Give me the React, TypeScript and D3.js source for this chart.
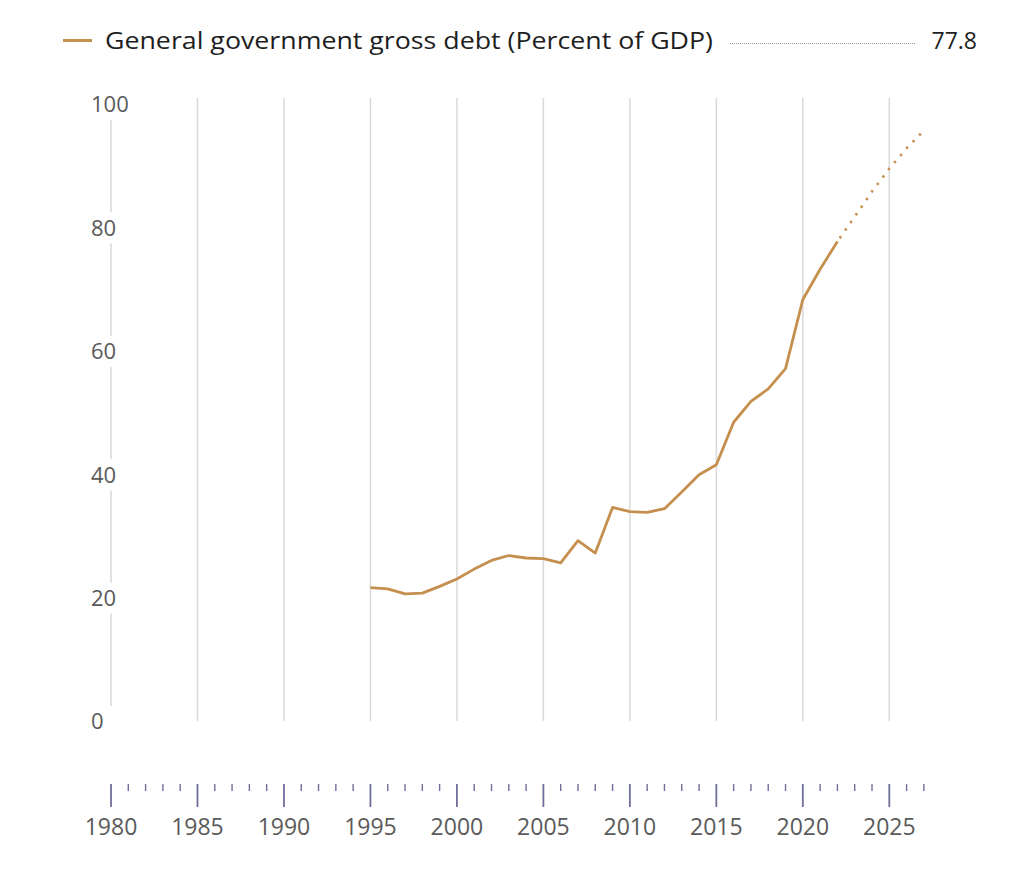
import React from "react";
import * as d3 from "d3";

const years: number[] = [
  1995, 1996, 1997, 1998, 1999, 2000, 2001, 2002, 2003, 2004, 2005, 2006, 2007,
  2008, 2009, 2010, 2011, 2012, 2013, 2014, 2015, 2016, 2017, 2018, 2019, 2020,
  2021, 2022,
];
const debt: number[] = [
  21.7, 21.5, 20.7, 20.8, 21.9, 23.1, 24.7, 26.1, 26.9, 26.5, 26.4, 25.7, 29.3,
  27.3, 34.7, 34.0, 33.9, 34.5, 37.2, 40.0, 41.6, 48.5, 51.9, 53.9, 57.2, 68.4,
  73.3, 77.8,
];
const projYears: number[] = [2022, 2023, 2024, 2025, 2026, 2027];
const projDebt: number[] = [77.8, 81.8, 85.9, 89.6, 92.9, 95.8];
const yTicks: number[] = [0, 20, 40, 60, 80, 100];
const xLabelYears: number[] = [1980, 1985, 1990, 1995, 2000, 2005, 2010, 2015, 2020, 2025];
const allYears: number[] = d3.range(1980, 2028);
const seriesName = "General government gross debt (Percent of GDP)";
const latestValue = "77.8";

const FONT = "'Open Sans', 'Noto Sans', sans-serif";
const LINE_COLOR = "#c58f4e";

export default function App() {
  const x = d3.scaleLinear().domain([1980, 2025]).range([111, 889.3]);
  const y = d3.scaleLinear().domain([0, 100]).range([721.5, 104.5]);

  const line = d3
    .line<[number, number]>()
    .x((d) => x(d[0]))
    .y((d) => y(d[1]));

  const solid = line(years.map((yr, i) => [yr, debt[i]] as [number, number])) || "";
  const dotted = line(projYears.map((yr, i) => [yr, projDebt[i]] as [number, number])) || "";

  const gridTop = 98;
  const gridBottom = 721;
  const axisTop = 784;

  return (
    <svg
      width={1024}
      height={884}
      style={{ position: "absolute", left: 0, top: 0, background: "#fff" }}
      fontFamily={FONT}
    >
      <rect x={0} y={0} width={1024} height={884} fill="#fff" />
      {/* legend */}
      <line x1={63} x2={92} y1={40.5} y2={40.5} stroke={LINE_COLOR} strokeWidth={3} />
      <text
        x={105}
        y={48.5}
        fontSize={23}
        fill="#1e1e1e"
        textLength={608}
        lengthAdjust="spacingAndGlyphs"
      >
        {seriesName}
      </text>
      <line
        x1={730}
        x2={915}
        y1={43.5}
        y2={43.5}
        stroke="#9a9a9a"
        strokeWidth={1}
        strokeDasharray="1 1"
      />
      <text x={977} y={48.5} fontSize={23} fill="#1e1e1e" textAnchor="end">
        {latestValue}
      </text>

      {/* vertical gridlines */}
      {xLabelYears.map((yr) => (
        <line
          key={"g" + yr}
          x1={x(yr)}
          x2={x(yr)}
          y1={gridTop}
          y2={gridBottom}
          stroke="#d9d9d9"
          strokeWidth={1.5}
        />
      ))}

      {/* y labels with white background */}
      {yTicks.map((v) => (
        <g key={"y" + v}>
          <rect x={88} y={y(v) - 15.5} width={54} height={31} fill="#fff" />
          <text x={91} y={y(v)} dy="0.36em" fontSize={22} fill="#5a5a5a">
            {v}
          </text>
        </g>
      ))}

      {/* data line */}
      <path d={solid} fill="none" stroke={LINE_COLOR} strokeWidth={2.8} strokeLinejoin="round" />
      <path
        d={dotted}
        fill="none"
        stroke={LINE_COLOR}
        strokeWidth={2.6}
        strokeDasharray="2.4 6.9"
        strokeDashoffset={-4}
      />

      {/* x axis ticks */}
      {allYears.map((yr) => {
        const major = yr % 5 === 0;
        return (
          <line
            key={"t" + yr}
            x1={x(yr)}
            x2={x(yr)}
            y1={axisTop}
            y2={axisTop + (major ? 23 : 7)}
            stroke="#6f6f9b"
            strokeWidth={major ? 1.8 : 1.4}
          />
        );
      })}
      {xLabelYears.map((yr) => (
        <text
          key={"l" + yr}
          x={x(yr)}
          y={827}
          dy="0.36em"
          textAnchor="middle"
          fontSize={23}
          fill="#5a5a5a"
        >
          {yr}
        </text>
      ))}
    </svg>
  );
}
